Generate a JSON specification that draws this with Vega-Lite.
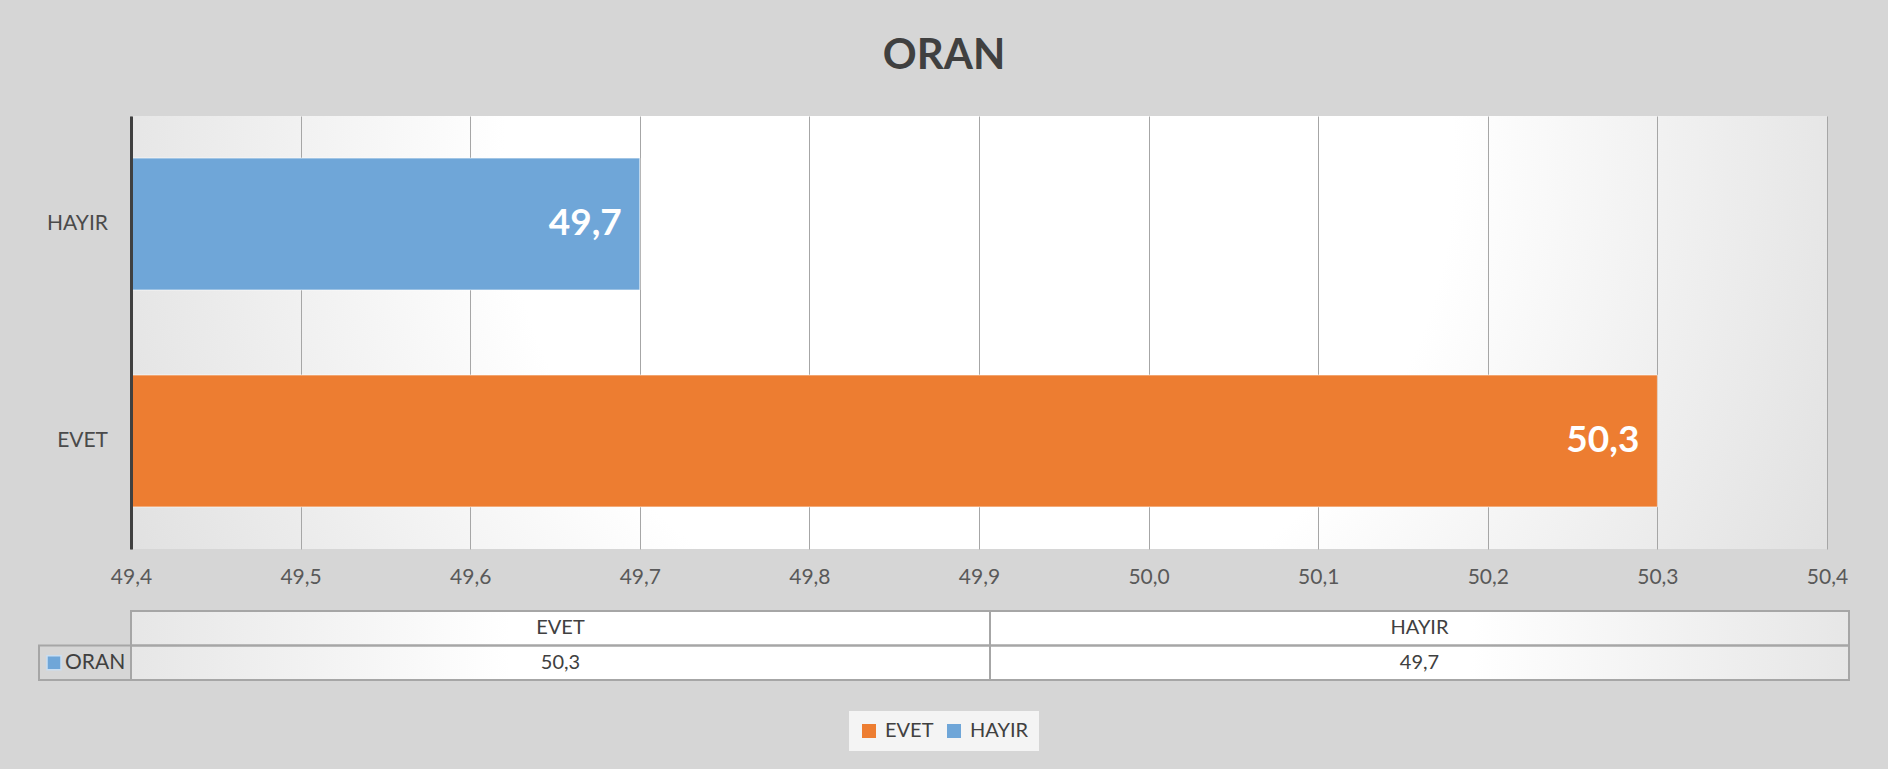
{
  "$schema": "https://vega.github.io/schema/vega-lite/v6.json",
  "background": "#d6d6d6",
  "padding": {"left": 38, "top": 35, "right": 40, "bottom": 18},
  "config": {
    "font": "Lato",
    "locale": {"number": {"decimal": ",", "thousands": ".", "grouping": [3], "currency": ["", ""]}},
    "view": {"stroke": null}
  },
  "title": {"text": "ORAN", "fontSize": 42, "fontWeight": "bold", "color": "#404040", "anchor": "middle", "frame": "bounds", "offset": 38, "font": "Lato"},
  "datasets": {
    "oran": [
      {"seri": "ORAN", "kategori": "EVET", "oran": 50.3},
      {"seri": "ORAN", "kategori": "HAYIR", "oran": 49.7}
    ]
  },
  "data": {"name": "oran"},
  "spacing": 16,
  "resolve": {"scale": {"x": "independent", "y": "independent"}},
  "vconcat": [
    {
      "spacing": 0,
      "bounds": "flush",
      "resolve": {"scale": {"x": "independent", "y": "independent"}},
      "hconcat": [
        {
          "width": 92,
          "height": 433,
          "mark": {"type": "text", "align": "right", "baseline": "middle", "dx": 23, "fontSize": 21, "color": "#4a4a4a", "font": "Lato"},
          "encoding": {
            "y": {"field": "kategori", "type": "nominal", "sort": ["HAYIR", "EVET"], "scale": {"paddingInner": 0.392, "paddingOuter": 0.194}, "axis": null},
            "text": {"field": "kategori", "type": "nominal"}
          }
        },
        {
          "width": 1696,
          "height": 433,
          "view": {
            "stroke": null,
            "fill": {"gradient": "radial", "x1": 0.5, "y1": 0.4, "r1": 0, "x2": 0.5, "y2": 0.4, "r2": 0.7,
              "stops": [{"offset": 0, "color": "#ffffff"}, {"offset": 0.4, "color": "#ffffff"}, {"offset": 1, "color": "#d0d0d0"}]}
          },
          "encoding": {
            "y": {
              "field": "kategori", "type": "nominal", "sort": ["HAYIR", "EVET"],
              "scale": {"paddingInner": 0.392, "paddingOuter": 0.194},
              "axis": {"title": null, "labels": false, "domainColor": "#404040", "domainWidth": 3, "ticks": false, "zindex": 1, "grid": false}
            }
          },
          "layer": [
            {
              "mark": {"type": "bar", "stroke": "#ffffff", "strokeOpacity": 0.6, "strokeWidth": 1},
              "encoding": {
                "x": {
                  "field": "oran", "type": "quantitative",
                  "scale": {"domain": [49.4, 50.4], "zero": false, "nice": false},
                  "axis": {"title": null, "values": [49.4, 49.5, 49.6, 49.7, 49.8, 49.9, 50.0, 50.1, 50.2, 50.3, 50.4],
                    "format": ".1f", "grid": true, "gridColor": "#a6a6a6", "gridWidth": 1, "domain": false, "ticks": false,
                    "labelPadding": 17, "labelFontSize": 21, "labelColor": "#595959", "labelFont": "Lato",
                    "labelFlush": false, "labelOverlap": false, "minExtent": 45, "maxExtent": 45, "zindex": 0}
                },
                "x2": {"datum": 49.4},
                "color": {
                  "field": "kategori", "type": "nominal",
                  "scale": {"domain": ["EVET", "HAYIR"], "range": ["#ED7D31", "#6FA6D8"]},
                  "legend": {"orient": "none", "legendX": 810, "legendY": 595, "direction": "horizontal", "title": null,
                    "symbolType": "square", "symbolSize": 196, "symbolStrokeWidth": 0, "labelFontSize": 20, "labelColor": "#404040",
                    "labelFont": "Lato", "columnPadding": 10, "labelOffset": 6, "fillColor": "#f4f4f4", "padding": 10}
                }
              }
            },
            {
              "mark": {"type": "text", "align": "right", "baseline": "middle", "dx": -18, "fontSize": 37, "fontWeight": "bold", "color": "#ffffff", "font": "Lato"},
              "encoding": {
                "x": {"field": "oran", "type": "quantitative"},
                "text": {"field": "oran", "type": "quantitative", "format": ".1f"}
              }
            }
          ]
        }
      ]
    },
    {
      "spacing": 0,
      "bounds": "flush",
      "resolve": {"scale": {"x": "independent", "y": "independent"}},
      "hconcat": [
        {
          "width": 92,
          "height": 69,
          "transform": [{"aggregate": [{"op": "count", "as": "n"}], "groupby": ["seri"]}],
          "encoding": {
            "x": {"field": "seri", "type": "nominal", "scale": {"paddingInner": 0, "paddingOuter": 0}, "axis": null},
            "y": {"datum": "veri", "type": "nominal", "scale": {"domain": ["baslik", "veri"], "paddingInner": 0, "paddingOuter": 0}, "axis": null}
          },
          "layer": [
            {"mark": {"type": "rect", "fillOpacity": 0, "stroke": "#a6a6a6", "strokeWidth": 2}},
            {"mark": {"type": "square", "size": 196, "xOffset": -31, "fill": "#6FA6D8", "stroke": "#c9def2", "strokeWidth": 1.5, "opacity": 1}},
            {"mark": {"type": "text", "align": "left", "baseline": "middle", "dx": -20, "fontSize": 21, "color": "#404040", "font": "Lato"},
             "encoding": {"text": {"field": "seri", "type": "nominal"}}}
          ]
        },
        {
          "width": 1718,
          "height": 69,
          "view": {
            "stroke": null,
            "fill": {"gradient": "radial", "x1": 0.5, "y1": 0.5, "r1": 0, "x2": 0.5, "y2": 0.5, "r2": 0.7,
              "stops": [{"offset": 0, "color": "#ffffff"}, {"offset": 0.4, "color": "#ffffff"}, {"offset": 1, "color": "#d0d0d0"}]}
          },
          "encoding": {
            "x": {"field": "kategori", "type": "nominal", "sort": ["EVET", "HAYIR"], "scale": {"paddingInner": 0, "paddingOuter": 0}, "axis": null}
          },
          "layer": [
            {"mark": {"type": "rect", "fillOpacity": 0, "stroke": "#a6a6a6", "strokeWidth": 2},
             "encoding": {"y": {"datum": "baslik", "type": "nominal", "scale": {"domain": ["baslik", "veri"], "paddingInner": 0, "paddingOuter": 0}, "axis": null}}},
            {"mark": {"type": "rect", "fillOpacity": 0, "stroke": "#a6a6a6", "strokeWidth": 2},
             "encoding": {"y": {"datum": "veri", "type": "nominal"}}},
            {"mark": {"type": "text", "baseline": "middle", "fontSize": 20, "color": "#404040", "font": "Lato"},
             "encoding": {"y": {"datum": "baslik", "type": "nominal"}, "text": {"field": "kategori", "type": "nominal"}}},
            {"mark": {"type": "text", "baseline": "middle", "fontSize": 20, "color": "#404040", "font": "Lato"},
             "encoding": {"y": {"datum": "veri", "type": "nominal"}, "text": {"field": "oran", "type": "quantitative", "format": ".1f"}}}
          ]
        }
      ]
    }
  ]
}
